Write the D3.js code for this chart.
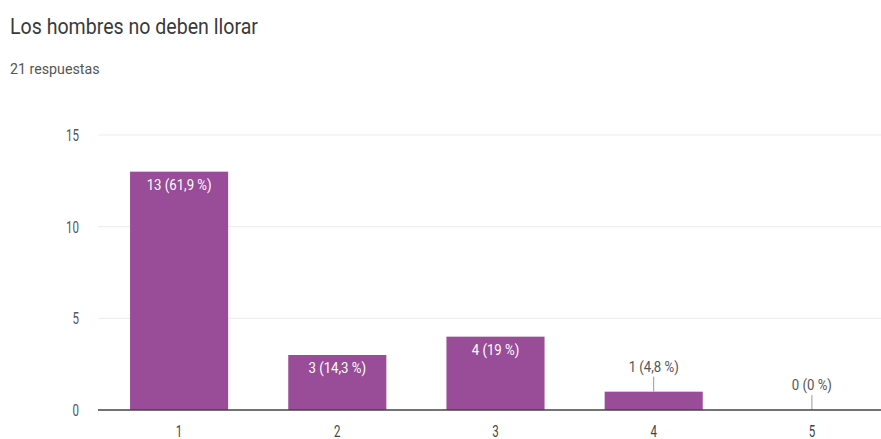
<!DOCTYPE html>
<html lang="es">
<head>
<meta charset="utf-8">
<title>Los hombres no deben llorar</title>
<script src="https://d3js.org/d3.v7.min.js"></script>
<style>
  body { margin: 0; background: #fff; }
  text { font-family: Roboto, "Liberation Sans", sans-serif; }
</style>
</head>
<body>
<script>
// datos
var categories = ["1", "2", "3", "4", "5"];
var counts = [13, 3, 4, 1, 0];
var labels = ["13 (61,9 %)", "3 (14,3 %)", "4 (19 %)", "1 (4,8 %)", "0 (0 %)"];
var yTicks = [0, 5, 10, 15];

var w = 881, h = 439;
var svg = d3.select("body").append("svg").attr("width", w).attr("height", h);

// texto algo estrecho, escalado en x alrededor de su punto de anclaje
function squeeze(sel, sx) {
  sel.attr("transform", function() {
    var px = +this.getAttribute("x");
    return "translate(" + px + ",0) scale(" + sx + ",1) translate(" + (-px) + ",0)";
  });
}

// titulo
svg.append("text").attr("x", 10).attr("y", 34)
   .attr("font-size", 22).attr("fill", "#3a3a3a")
   .text("Los hombres no deben llorar")
   .call(squeeze, 0.89);
svg.append("text").attr("x", 10).attr("y", 74)
   .attr("font-size", 15).attr("fill", "#555")
   .text("21 respuestas")
   .call(squeeze, 0.95);

var x = d3.scaleBand().domain(categories).range([100, 891])
          .paddingInner(0.38).paddingOuter(0.19);
var y = d3.scaleLinear().domain([0, 15]).range([410, 135]);

// lineas de cuadricula
svg.selectAll(".grid").data(yTicks.slice(1)).enter().append("line")
   .attr("x1", 98).attr("x2", w)
   .attr("y1", function(d) { return y(d); }).attr("y2", function(d) { return y(d); })
   .attr("stroke", "#ececec").attr("stroke-width", 1);

// eje y
svg.selectAll(".ylab").data(yTicks).enter().append("text")
   .attr("x", 79).attr("y", function(d) { return y(d) + 6; })
   .attr("text-anchor", "end").attr("font-size", 16).attr("fill", "#555")
   .text(function(d) { return d; })
   .call(squeeze, 0.72);

// barras
svg.selectAll(".bar").data(counts).enter().append("rect")
   .attr("x", function(d, i) { return x(categories[i]); })
   .attr("y", function(d) { return y(d); })
   .attr("width", x.bandwidth())
   .attr("height", function(d) { return y(0) - y(d); })
   .attr("fill", "#994c97");

// etiquetas de valores
counts.forEach(function(d, i) {
  var cx = x(categories[i]) + x.bandwidth() / 2;
  var g = svg.append("g");
  if (y(0) - y(d) > 30) {
    g.append("text").attr("x", cx).attr("y", y(d) + 18)
     .attr("text-anchor", "middle").attr("font-size", 15).attr("fill", "#fff")
     .text(labels[i])
     .call(squeeze, 0.88);
  } else {
    var top = y(d);
    g.append("line").attr("x1", cx).attr("x2", cx)
     .attr("y1", top).attr("y2", top - 15)
     .attr("stroke", "#999").attr("stroke-width", 1);
    g.append("text").attr("x", cx).attr("y", top - 20)
     .attr("text-anchor", "middle").attr("font-size", 15).attr("fill", "#555")
     .text(labels[i])
     .call(squeeze, 0.88);
  }
});

// linea base
svg.append("line").attr("x1", 98).attr("x2", w)
   .attr("y1", y(0)).attr("y2", y(0))
   .attr("stroke", "#444").attr("stroke-width", 1.5);

// eje x
svg.selectAll(".xlab").data(categories).enter().append("text")
   .attr("x", function(d) { return x(d) + x.bandwidth() / 2; })
   .attr("y", 437)
   .attr("text-anchor", "middle").attr("font-size", 16).attr("fill", "#444")
   .text(function(d) { return d; })
   .call(squeeze, 0.72);
</script>
</body>
</html>
